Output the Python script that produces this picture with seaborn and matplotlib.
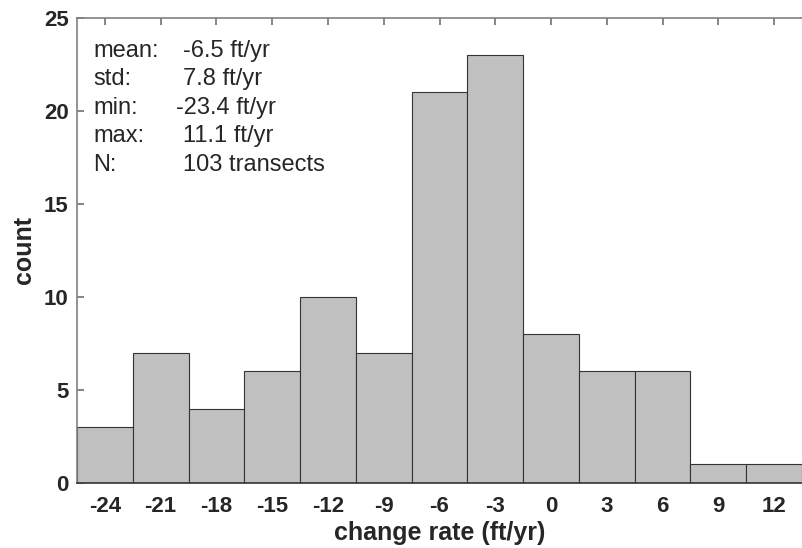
import numpy as np
import pandas as pd
import seaborn as sns
from matplotlib import pyplot as plt

# histogram of shoreline change rates, bins are 3 ft/yr wide
bin_centers = [-24, -21, -18, -15, -12, -9, -6, -3, 0, 3, 6, 9, 12]
counts = [3, 7, 4, 6, 10, 7, 21, 23, 8, 6, 6, 1, 1]
y_ticks = [0, 5, 10, 15, 20, 25]

stat_labels = ["mean:", "std:", "min:", "max:", "N:"]
stat_values = ["-6.5 ft/yr", "7.8 ft/yr", "-23.4 ft/yr", "11.1 ft/yr", "103 transects"]

sns.set_style("ticks")
plt.rcParams['font.family'] = ['Liberation Sans', 'DejaVu Sans']
plt.rcParams['axes.unicode_minus'] = False

df = pd.DataFrame({"rate": bin_centers, "count": counts})
bin_width = 3
edges = np.arange(min(bin_centers) - bin_width / 2, max(bin_centers) + bin_width, bin_width).tolist()

fig = plt.figure(figsize=(8.02, 5.48), dpi=100)
ax = fig.add_axes([77 / 802, 65 / 548, 725 / 802, 465 / 548])

sns.histplot(data=df, x="rate", weights="count", bins=edges, color="#c0c0c0",
             edgecolor="#333333", linewidth=0.8, alpha=1, ax=ax)

ax.set_xlim(edges[0], edges[-1])
ax.set_ylim(0, 25)
ax.set_xticks(bin_centers)
ax.set_yticks(y_ticks)

for spine in ["left", "top", "bottom"]:
    ax.spines[spine].set_color("#808080")
    ax.spines[spine].set_linewidth(1.2)
ax.spines["bottom"].set_color("#333333")
ax.spines["right"].set_visible(False)

ax.tick_params(axis="x", direction="in", bottom=False, top=True, length=5,
               width=1.2, color="#707070", pad=9, labelsize=16)
ax.tick_params(axis="y", direction="in", left=True, right=False, length=5,
               width=1.2, color="#707070", pad=6, labelsize=16)
for lab in ax.get_xticklabels() + ax.get_yticklabels():
    lab.set_fontweight("bold")

ax.set_xlabel("change rate (ft/yr)", fontsize=18, fontweight="bold", labelpad=3)
ax.set_ylabel("count", fontsize=18, fontweight="bold", labelpad=6)

# stats box in the upper left
line_y = [0.916, 0.856, 0.794, 0.733, 0.671]
value_x = [0.146, 0.146, 0.137, 0.146, 0.146]
for i in range(len(stat_labels)):
    ax.text(0.022, line_y[i], stat_labels[i], transform=ax.transAxes,
            fontsize=17, va="baseline", ha="left")
    ax.text(value_x[i], line_y[i], stat_values[i], transform=ax.transAxes,
            fontsize=17, va="baseline", ha="left")

fig.savefig("out.png", dpi=100)
